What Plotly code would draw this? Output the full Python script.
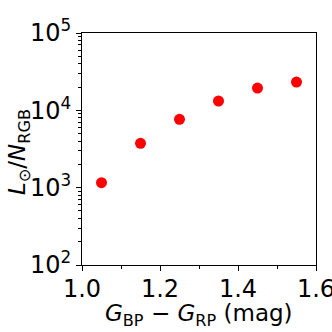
import plotly.graph_objects as go
import numpy as np

color_bp_rp = [1.05, 1.15, 1.25, 1.35, 1.45, 1.55]
lum_per_nrgb = [1160, 3740, 7640, 13200, 19400, 23200]

y_major = [1e2, 1e3, 1e4, 1e5]
y_major_text = ["10<sup>2</sup>", "10<sup>3</sup>", "10<sup>4</sup>", "10<sup>5</sup>"]
x_major = [1.0, 1.2, 1.4, 1.6]
x_major_text = ["1.0", "1.2", "1.4", "1.6"]
x_minor = [1.1, 1.3, 1.5]
y_minor = [m * 10**e for e in range(2, 5) for m in range(2, 10)]

x_title = "<i>G</i><sub>BP</sub> − <i>G</i><sub>RP</sub> (mag)"
y_title = "<i>L</i><sub>⊙</sub>/<i>N</i><sub>RGB</sub>"

font = "DejaVu Sans"

fig = go.Figure()
fig.add_trace(go.Scatter(
    x=color_bp_rp, y=lum_per_nrgb, mode="markers",
    marker=dict(color="#ff0000", size=11, line=dict(width=0)),
    showlegend=False,
))

# plot area at x 82..316, y 33..265
fig.update_layout(
    width=332, height=332,
    margin=dict(l=82, r=16, t=33, b=67),
    paper_bgcolor="white", plot_bgcolor="white",
    font=dict(family=font, size=24, color="black"),
)
fig.update_xaxes(
    range=[1.0, 1.6], tickvals=x_major, ticktext=x_major_text,
    ticks="outside", ticklen=5, tickwidth=1, tickcolor="black",
    showline=True, linecolor="black", linewidth=1, mirror=True,
    showgrid=False, zeroline=False, automargin=False,
    minor=dict(tickvals=x_minor, ticks="outside", ticklen=3, tickwidth=1, tickcolor="black", showgrid=False),
    tickfont=dict(size=24), ticklabelstandoff=-3, ticklabeloverflow="allow",
)
fig.update_yaxes(
    type="log", range=[2, 5], tickvals=y_major, ticktext=y_major_text,
    ticks="outside", ticklen=5, tickwidth=1, tickcolor="black",
    showline=True, linecolor="black", linewidth=1, mirror=True,
    showgrid=False, zeroline=False, automargin=False,
    minor=dict(tickvals=y_minor, ticks="outside", ticklen=3, tickwidth=1, tickcolor="black", showgrid=False),
    tickfont=dict(size=24), ticklabeloverflow="allow",
)
fig.add_annotation(text=x_title, xref="paper", yref="paper", x=0.5, y=-0.215,
                   xanchor="center", yanchor="middle", showarrow=False,
                   font=dict(size=23, family=font, color="black"))
fig.add_annotation(text=y_title, xref="paper", yref="paper", x=-0.269, y=0.487,
                   xanchor="center", yanchor="middle", textangle=-90, showarrow=False,
                   font=dict(size=23, family=font, color="black"))

fig.write_html("out.html", config={"displayModeBar": False},
               post_script="document.body.style.margin='0';document.body.style.overflow='hidden';")
